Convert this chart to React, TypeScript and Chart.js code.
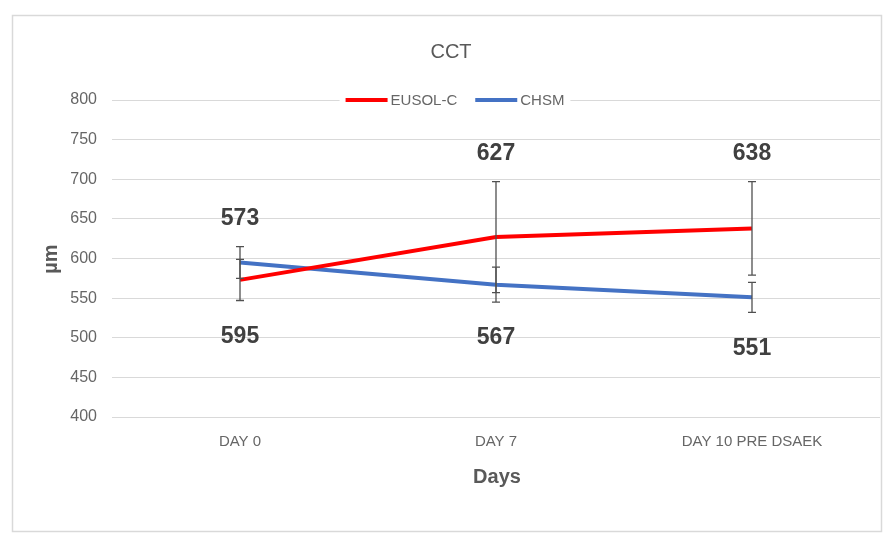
import React, { useEffect, useRef } from "react";
import { Chart, registerables } from "chart.js";

Chart.register(...registerables);

const chartTitle = "CCT";
const xAxisTitle = "Days";
const yAxisTitle = "µm";
const categories = ["DAY 0", "DAY 7", "DAY 10 PRE DSAEK"];
const seriesNames = ["EUSOL-C", "CHSM"];
const eusolValues = [573, 627, 638];
const chsmValues = [595, 567, 551];
const eusolErrors = [26, 70, 59];
const chsmErrors = [20, 22, 19];
const yMin = 400;
const yMax = 800;
const yStep = 50;

const RED = "#ff0000";
const BLUE = "#4472c4";
const TEXT = "#595959";
const TICK = "#666666";
const LABEL = "#404040";
const FONT = "'Liberation Sans', Arial, sans-serif";

const decorPlugin = {
  id: "decor",
  beforeDraw(chart: any) {
    const ctx = chart.ctx;
    ctx.save();
    ctx.fillStyle = "#ffffff";
    ctx.fillRect(0, 0, chart.width, chart.height);
    ctx.strokeStyle = "#d9d9d9";
    ctx.lineWidth = 1.5;
    ctx.strokeRect(12.5, 15.5, 869, 516);
    ctx.restore();
  },
  afterDatasetsDraw(chart: any) {
    const ctx = chart.ctx;
    const x = chart.scales.x;
    const y = chart.scales.y;
    const errs = [eusolErrors, chsmErrors];
    ctx.save();
    // error bars
    ctx.strokeStyle = "#505050";
    ctx.lineWidth = 1.3;
    chart.data.datasets.forEach((ds: any, di: number) => {
      ds.data.forEach((v: number, i: number) => {
        const px = x.getPixelForValue(i);
        const top = y.getPixelForValue(v + errs[di][i]);
        const bot = y.getPixelForValue(v - errs[di][i]);
        ctx.beginPath();
        ctx.moveTo(px, top);
        ctx.lineTo(px, bot);
        ctx.moveTo(px - 4, top);
        ctx.lineTo(px + 4, top);
        ctx.moveTo(px - 4, bot);
        ctx.lineTo(px + 4, bot);
        ctx.stroke();
      });
    });
    // data labels: EUSOL-C above the error bars, CHSM below
    ctx.fillStyle = LABEL;
    ctx.font = `bold 23px ${FONT}`;
    ctx.textAlign = "center";
    ctx.textBaseline = "middle";
    categories.forEach((_, i) => {
      const px = x.getPixelForValue(i);
      const hi = Math.max(eusolValues[i] + eusolErrors[i], chsmValues[i] + chsmErrors[i]);
      const lo = Math.min(eusolValues[i] - eusolErrors[i], chsmValues[i] - chsmErrors[i]);
      ctx.fillText(String(eusolValues[i]), px, y.getPixelForValue(hi) - 28);
      ctx.fillText(String(chsmValues[i]), px, y.getPixelForValue(lo) + 36);
    });
    // titles
    ctx.fillStyle = TEXT;
    ctx.font = `20px ${FONT}`;
    ctx.fillText(chartTitle, 451, 52);
    ctx.font = `bold 20px ${FONT}`;
    ctx.fillText(xAxisTitle, 497, 477);
    ctx.save();
    ctx.translate(51, 259);
    ctx.rotate(-Math.PI / 2);
    ctx.fillText(yAxisTitle, 0, 0);
    ctx.restore();
    // legend
    ctx.font = `15px ${FONT}`;
    const lineLen = 42;
    const gap = 3;
    const itemGap = 18;
    const colors = [RED, BLUE];
    const widths = seriesNames.map((n) => lineLen + gap + ctx.measureText(n).width);
    const total = widths[0] + widths[1] + itemGap;
    let lx = 455 - total / 2;
    const ly = chart.chartArea.top;
    ctx.fillStyle = "#ffffff";
    ctx.fillRect(lx - 6, ly - 8, total + 12, 16);
    seriesNames.forEach((n, k) => {
      ctx.strokeStyle = colors[k];
      ctx.lineWidth = 4;
      ctx.beginPath();
      ctx.moveTo(lx, ly);
      ctx.lineTo(lx + lineLen, ly);
      ctx.stroke();
      ctx.fillStyle = TICK;
      ctx.textAlign = "left";
      ctx.fillText(n, lx + lineLen + gap, ly + 1);
      lx += widths[k] + itemGap;
    });
    ctx.restore();
  },
};

export default function App() {
  const ref = useRef<HTMLCanvasElement>(null);
  useEffect(() => {
    document.body.style.margin = "0";
    const chart = new Chart(ref.current!, {
      type: "line",
      data: {
        labels: categories,
        datasets: [
          {
            label: seriesNames[0],
            data: eusolValues,
            borderColor: RED,
            backgroundColor: RED,
            borderWidth: 4,
            pointRadius: 0,
            tension: 0,
          },
          {
            label: seriesNames[1],
            data: chsmValues,
            borderColor: BLUE,
            backgroundColor: BLUE,
            borderWidth: 4,
            pointRadius: 0,
            tension: 0,
          },
        ],
      },
      options: {
        animation: false,
        responsive: false,
        layout: { padding: { top: 100, right: 4, left: 0, bottom: 0 } },
        plugins: {
          legend: { display: false },
          title: { display: false },
          tooltip: { enabled: false },
        },
        scales: {
          x: {
            offset: true,
            grid: { display: false, drawTicks: false },
            border: { display: false },
            ticks: { color: TICK, font: { family: FONT, size: 15 }, padding: 16, maxRotation: 0 },
            afterFit: (s: any) => {
              s.height = 116;
            },
          },
          y: {
            min: yMin,
            max: yMax,
            grid: { color: "#d9d9d9", drawTicks: false },
            border: { display: false },
            ticks: { stepSize: yStep, color: TICK, font: { family: FONT, size: 16 }, padding: 15 },
            afterFit: (s: any) => {
              s.width = 112;
            },
          },
        },
      },
      plugins: [decorPlugin],
    });
    return () => chart.destroy();
  }, []);
  return (
    <div style={{ width: 884, height: 533 }}>
      <canvas ref={ref} width={884} height={533} />
    </div>
  );
}
